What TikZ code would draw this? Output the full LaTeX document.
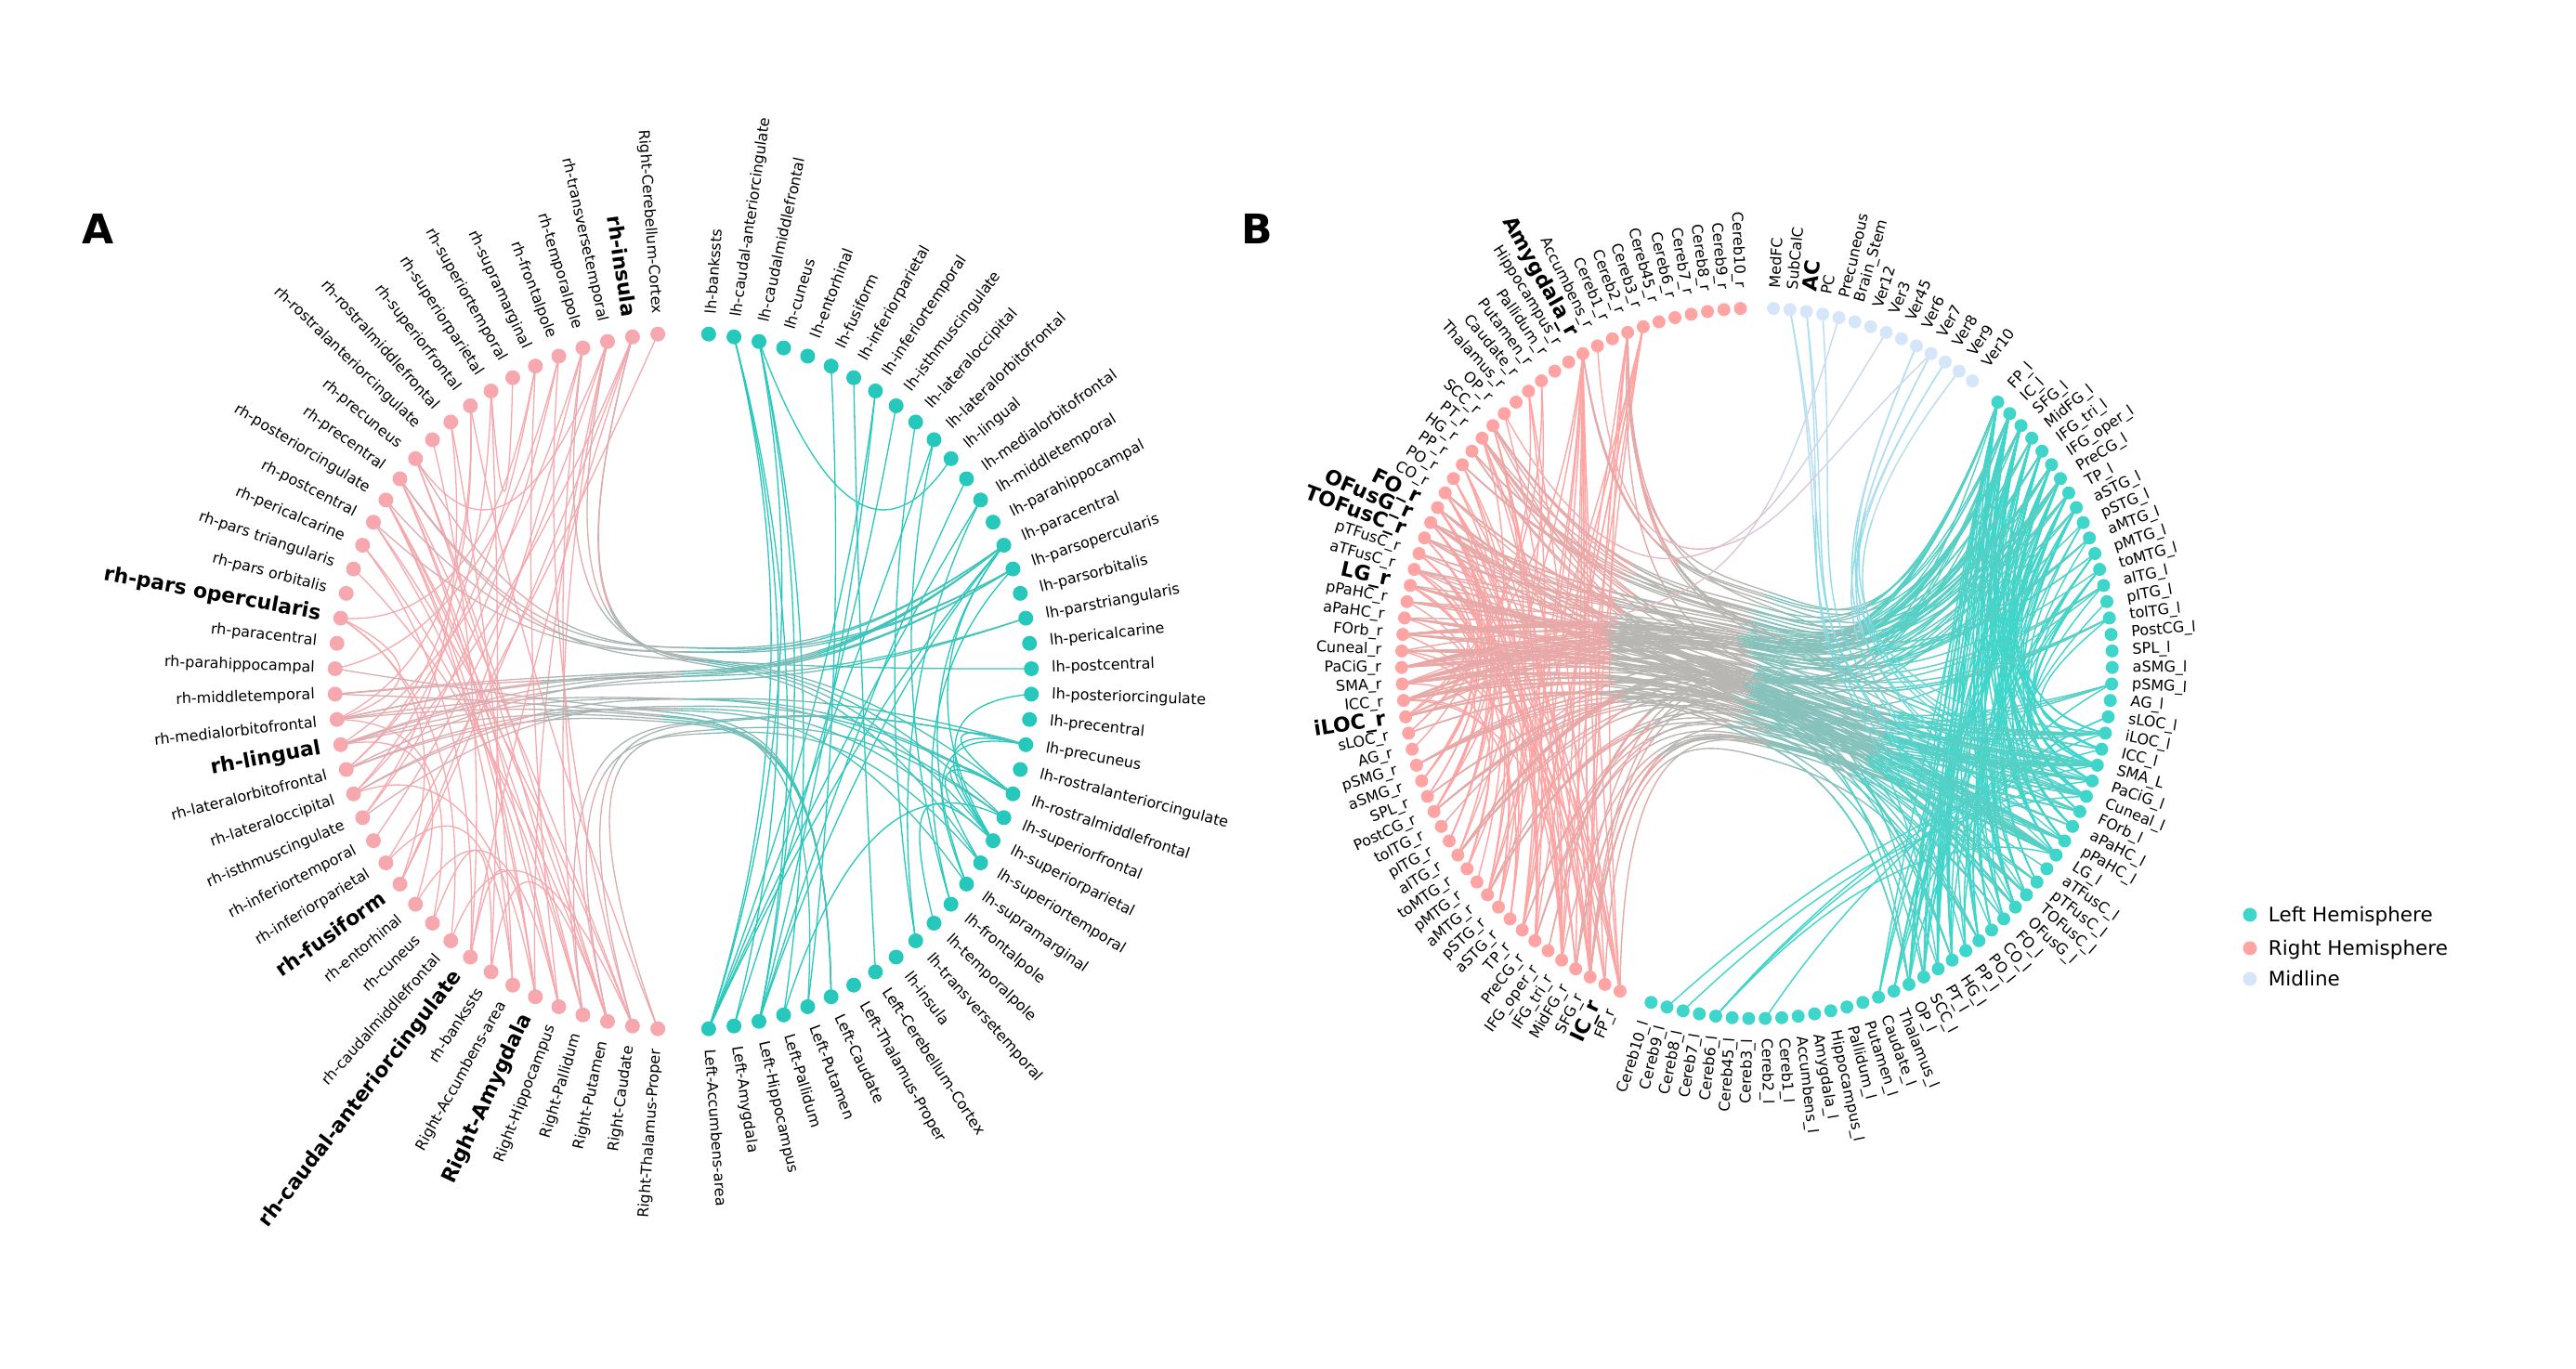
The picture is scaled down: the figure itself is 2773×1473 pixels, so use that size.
\documentclass[tikz,border=0pt]{standalone}
\usepackage{fontspec}
\setmainfont{DejaVu Sans}
\usetikzlibrary{calc}
\pgfdeclarelayer{edges}
\pgfsetlayers{edges,main}
\definecolor{pA}{RGB}{247,168,174}
\definecolor{gA}{RGB}{38,200,188}
\definecolor{pB}{RGB}{255,163,163}
\definecolor{gB}{RGB}{62,213,202}
\definecolor{mB}{RGB}{214,230,250}
\definecolor{mE}{RGB}{196,222,246}
\newcommand\bfont{\fontsize{22}{26}\bfseries\selectfont}
\def\bx{0.8}
\def\bs{0.7}
% split a cubic at t=1/2
\newcommand\bsplit[5]{%
  \path ($(#1)!.5!(#2)$) coordinate (#5a)
        ($(#2)!.5!(#3)$) coordinate (#5x)
        ($(#3)!.5!(#4)$) coordinate (#5d)
        ($(#5a)!.5!(#5x)$) coordinate (#5b)
        ($(#5x)!.5!(#5d)$) coordinate (#5c)
        ($(#5b)!.5!(#5c)$) coordinate (#5m);}
\newcommand\segq[6]{%
  \bsplit{#1}{#2}{#3}{#4}{Q}%
  \draw[conn,draw=#5] (#1.center) .. controls (Qa) and (Qb) .. (Qm);
  \draw[conn,draw=#6] (Qm) .. controls (Qc) and (Qd) .. (#4.center);}
% bundled connector across groups: leaf, group, root, group, leaf
\newcommand\xconn[7]{%
  \path ($(#1)!.25!(#5)$) coordinate (L1)
        ($(#1)!.5!(#5)$) coordinate (L2)
        ($(#1)!.75!(#5)$) coordinate (L3)
        ($(L1)!\bx!(#2)$) coordinate (C1)
        ($(L2)!\bx!(#3)$) coordinate (C2)
        ($(L3)!\bx!(#4)$) coordinate (C3)
        ($(C1)!.5!(C2)$) coordinate (M1)
        ($(C2)!.5!(C3)$) coordinate (M2)
        ($(M1)!.5!(M2)$) coordinate (MC);%
  \segq{#1}{C1}{M1}{MC}{#6!87.5!#7}{#6!62.5!#7}%
  \segq{MC}{M2}{C3}{#5}{#6!37.5!#7}{#6!12.5!#7}}
% bundled connector inside one group
\newcommand\sconn[4]{%
  \path ($(#1)!.5!(#3)$) coordinate (L2) ($(L2)!\bs!(#2)$) coordinate (C2);%
  \draw[conn,draw=#4] (#1.center) .. controls ($(#1)!.6667!(C2)$) and ($(#3)!.6667!(C2)$) .. (#3.center);}
% radial label
\newcommand\radlab[5]{%
  \pgfmathtruncatemacro\isleft{(#2>90 && #2<270) ? 1 : 0}%
  \ifnum\isleft=1
    \node[lab, anchor=east, rotate=#2-180] (#5) at ([shift={(#2:#3)}]#1) {#4};
  \else
    \node[lab, anchor=west, rotate=#2] (#5) at ([shift={(#2:#3)}]#1) {#4};
  \fi}
\pgfmathdeclarerandomlist{BpX}{{17}{18}{19}{20}{21}{22}{23}{24}{24}{25}{25}{26}{26}{27}{28}{29}{29}{29}{30}{30}{31}{31}{32}{32}{32}{33}{33}{33}{34}{34}{34}{35}{35}{35}{36}{36}{36}{37}{37}{38}{40}{42}{43}{44}{46}{49}{52}{53}{54}{55}{56}{57}{58}{59}{11}{8}}
\pgfmathdeclarerandomlist{BgX}{{119}{118}{117}{116}{115}{114}{113}{112}{111}{110}{109}{108}{107}{106}{119}{118}{117}{115}{114}{113}{100}{98}{97}{97}{96}{96}{95}{95}{95}{94}{94}{94}{93}{93}{93}{92}{92}{91}{90}{90}{89}{89}{89}{88}{87}{86}{86}{85}{85}{84}{83}{82}{80}{79}{78}{77}{104}}
\pgfmathdeclarerandomlist{BpA}{{7}{8}{11}{11}{14}{15}{17}{18}{19}{19}{20}{21}{22}{23}{24}{24}{25}{25}{26}{27}{28}{29}{29}{30}{31}{32}{33}{34}{35}{36}}
\pgfmathdeclarerandomlist{BpB}{{37}{38}{39}{40}{41}{42}{42}{43}{43}{44}{45}{46}{47}{48}{49}{49}{50}{51}{52}{52}{53}{53}{53}{54}{54}{55}{55}{55}{56}{56}{57}{57}{57}{58}{58}{59}{59}}
\pgfmathdeclarerandomlist{BgA}{{119}{119}{119}{118}{118}{118}{117}{117}{117}{116}{116}{115}{115}{115}{114}{114}{113}{113}{112}{112}{111}{110}{109}{108}{107}{106}{105}{104}{100}{98}}
\pgfmathdeclarerandomlist{BgB}{{75}{76}{77}{77}{78}{78}{79}{79}{80}{80}{81}{82}{82}{83}{83}{84}{84}{85}{85}{86}{86}{87}{88}{89}{89}{89}{90}{90}{91}{92}{93}{93}{94}{94}{95}{95}{96}{96}{97}}
\begin{document}
\begin{tikzpicture}[x=1pt,y=1pt,
  lab/.style={inner sep=0pt, outer sep=0pt, font=\fontsize{16}{19}\selectfont},
  dotA/.style={circle, inner sep=0pt, minimum size=16pt, draw=none},
  dotB/.style={circle, inner sep=0pt, minimum size=14pt, draw=none},
  conn/.style={line width=1.3pt, line cap=round}]
\useasboundingbox (0,0) rectangle (2773,1473);
\coordinate (AO) at (735.5,739.3);
\coordinate (BO) at (1891.3,758.8);
\coordinate (AGp) at ([shift={(180:187.5)}]AO);
\coordinate (AGg) at ([shift={(0:187.5)}]AO);
\coordinate (BGp) at ([shift={(170:191)}]BO);
\coordinate (BGg) at ([shift={(330:191)}]BO);
\coordinate (BGm) at ([shift={(70:191)}]BO);

% ---------- panel A nodes ----------
\foreach \lab/\isb [count=\i from 0] in {Right-Cerebellum-Cortex/0, rh-insula/1, rh-transversetemporal/0, rh-temporalpole/0, rh-frontalpole/0, rh-supramarginal/0, rh-superiortemporal/0, rh-superiorparietal/0, rh-superiorfrontal/0, rh-rostralmiddlefrontal/0, rh-rostralanteriorcingulate/0, rh-precuneus/0, rh-precentral/0, rh-posteriorcingulate/0, rh-postcentral/0, rh-pericalcarine/0, rh-pars triangularis/0, rh-pars orbitalis/0, rh-pars opercularis/1, rh-paracentral/0, rh-parahippocampal/0, rh-middletemporal/0, rh-medialorbitofrontal/0, rh-lingual/1, rh-lateralorbitofrontal/0, rh-lateraloccipital/0, rh-isthmuscingulate/0, rh-inferiortemporal/0, rh-inferiorparietal/0, rh-fusiform/1, rh-entorhinal/0, rh-cuneus/0, rh-caudalmiddlefrontal/0, rh-caudal-anteriorcingulate/1, rh-bankssts/0, Right-Accumbens-area/0, Right-Amygdala/1, Right-Hippocampus/0, Right-Pallidum/0, Right-Putamen/0, Right-Caudate/0, Right-Thalamus-Proper/0}{%
  \pgfmathsetmacro\ang{90+(\i+1)*360/86}%
  \node[dotA, fill=pA] (Ap\i) at ([shift={(\ang:375)}]AO) {};%
  \radlab{AO}{\ang}{397}{\ifnum\isb=1 \bfont\fi\lab}{Apl\i}}
\foreach \lab [count=\i from 0] in {lh-bankssts, lh-caudal-anteriorcingulate, lh-caudalmiddlefrontal, lh-cuneus, lh-entorhinal, lh-fusiform, lh-inferiorparietal, lh-inferiortemporal, lh-isthmuscingulate, lh-lateraloccipital, lh-lateralorbitofrontal, lh-lingual, lh-medialorbitofrontal, lh-middletemporal, lh-parahippocampal, lh-paracentral, lh-parsopercularis, lh-parsorbitalis, lh-parstriangularis, lh-pericalcarine, lh-postcentral, lh-posteriorcingulate, lh-precentral, lh-precuneus, lh-rostralanteriorcingulate, lh-rostralmiddlefrontal, lh-superiorfrontal, lh-superiorparietal, lh-superiortemporal, lh-supramarginal, lh-frontalpole, lh-temporalpole, lh-transversetemporal, lh-insula, Left-Cerebellum-Cortex, Left-Thalamus-Proper, Left-Caudate, Left-Putamen, Left-Pallidum, Left-Hippocampus, Left-Amygdala, Left-Accumbens-area}{%
  \pgfmathsetmacro\ang{90-(\i+1)*360/86}%
  \node[dotA, fill=gA] (Ag\i) at ([shift={(\ang:375)}]AO) {};%
  \radlab{AO}{\ang}{397}{\lab}{Agl\i}}

% ---------- panel B nodes ----------
\foreach \lab/\isb [count=\j from 1] in {Cereb10\_r/0, Cereb9\_r/0, Cereb8\_r/0, Cereb7\_r/0, Cereb6\_r/0, Cereb45\_r/0, Cereb3\_r/0, Cereb2\_r/0, Cereb1\_r/0, Accumbens\_r/0, Amygdala\_r/1, Hippocampus\_r/0, Pallidum\_r/0, Putamen\_r/0, Caudate\_r/0, Thalamus\_r/0, OP\_r/0, SCC\_r/0, PT\_r/0, HG\_r/0, PP\_r/0, PO\_r/0, CO\_r/0, FO\_r/1, OFusG\_r/1, TOFusC\_r/1, pTFusC\_r/0, aTFusC\_r/0, LG\_r/1, pPaHC\_r/0, aPaHC\_r/0, FOrb\_r/0, Cuneal\_r/0, PaCiG\_r/0, SMA\_r/0, ICC\_r/0, iLOC\_r/1, sLOC\_r/0, AG\_r/0, pSMG\_r/0, aSMG\_r/0, SPL\_r/0, PostCG\_r/0, toITG\_r/0, pITG\_r/0, aITG\_r/0, toMTG\_r/0, pMTG\_r/0, aMTG\_r/0, pSTG\_r/0, aSTG\_r/0, TP\_r/0, PreCG\_r/0, IFG\_oper\_r/0, IFG\_tri\_r/0, MidFG\_r/0, SFG\_r/0, IC\_r/1, FP\_r/0}{%
  \pgfmathsetmacro\ang{90+\j*8/3}%
  \node[dotB, fill=pB] (B\j) at ([shift={(\ang:382.5)}]BO) {};%
  \radlab{BO}{\ang}{404.5}{\ifnum\isb=1 \bfont\fi\lab}{Bl\j}}
\foreach \lab [count=\j from 61] in {Cereb10\_l, Cereb9\_l, Cereb8\_l, Cereb7\_l, Cereb6\_l, Cereb45\_l, Cereb3\_l, Cereb2\_l, Cereb1\_l, Accumbens\_l, Amygdala\_l, Hippocampus\_l, Pallidum\_l, Putamen\_l, Caudate\_l, Thalamus\_l, OP\_l, SCC\_l, PT\_l, HG\_l, PP\_l, PO\_l, CO\_l, FO\_l, OFusG\_l, TOFusC\_l, pTFusC\_l, aTFusC\_l, LG\_l, pPaHC\_l, aPaHC\_l, FOrb\_l, Cuneal\_l, PaCiG\_l, SMA\_L, ICC\_l, iLOC\_l, sLOC\_l, AG\_l, pSMG\_l, aSMG\_l, SPL\_l, PostCG\_l, toITG\_l, pITG\_l, aITG\_l, toMTG\_l, pMTG\_l, aMTG\_l, pSTG\_l, aSTG\_l, TP\_l, PreCG\_l, IFG\_oper\_l, IFG\_tri\_l, MidFG\_l, SFG\_l, IC\_l, FP\_l}{%
  \pgfmathsetmacro\ang{90+\j*8/3}%
  \node[dotB, fill=gB] (B\j) at ([shift={(\ang:382.5)}]BO) {};%
  \radlab{BO}{\ang}{404.5}{\lab}{Bl\j}}
\foreach \lab/\isb [count=\j from 121] in {Ver10/0, Ver9/0, Ver8/0, Ver7/0, Ver6/0, Ver45/0, Ver3/0, Ver12/0, Brain\_Stem/0, Precuneous/0, PC/0, AC/1, SubCalC/0, MedFC/0}{%
  \pgfmathsetmacro\ang{90+\j*8/3}%
  \node[dotB, fill=mB] (B\j) at ([shift={(\ang:382.5)}]BO) {};%
  \radlab{BO}{\ang}{404.5}{\ifnum\isb=1 \bfont\fi\lab}{Bl\j}}

% ---------- panel letters and legend ----------
\node[inner sep=0pt, font=\fontsize{44}{44}\bfseries\selectfont] (labA) at (105.5,1226.5) {A};
\node[inner sep=0pt, font=\fontsize{44}{44}\bfseries\selectfont] (labB) at (1353.5,1227) {B};
\foreach \t/\c/\y [count=\i] in {Left Hemisphere/gB/488, Right Hemisphere/pB/452, Midline/mB/419}{%
  \node[circle, inner sep=0pt, minimum size=15pt, fill=\c] (leg\i) at (2422,\y) {};
  \node[anchor=base west, inner sep=0pt, font=\fontsize{21.5}{24}\selectfont] (legt\i) at (2441.7,\y-7.8) {\t};}

% ---------- connectors ----------
\begin{pgfonlayer}{edges}
\fill[white] (0,0) rectangle (2773,1473);
\def\bx{0.8}\def\bs{0.72}
\foreach \a/\b in {0/28,1/25,1/33,2/38,2/36,3/39,3/29,4/40,4/26,5/37,6/7,7/34,8/41,8/24,9/35,10/33,11/2,11/38,11/39,12/37,12/40,12/36,13/36,13/38,13/39,13/35,14/37,14/40,15/38,15/33,16/39,18/22,18/5,18/29,18/32,20/4,22/8,22/31,23/3,23/30,24/5,25/7,26/9,27/2,28/35,29/1,30/37,31/34,32/40,33/36,34/39,25/36}{\sconn{Ap\a}{AGp}{Ap\b}{pA}}
\foreach \a/\b in {1/39,1/41,1/40,2/39,2/41,2/38,2/11,5/37,6/34,7/39,7/41,8/40,9/32,10/41,10/30,12/39,13/41,13/32,15/41,15/39,15/27,15/29,16/30,21/27,23/27,23/25,23/29,25/27,25/28,26/38,27/31}{\sconn{Ag\a}{AGg}{Ag\b}{gA}}
\foreach \a/\b in {1/27,1/28,2/26,3/25,11/16,12/20,12/15,13/16,14/15,21/18,21/16,22/15,22/16,22/26,23/15,23/18,23/25,24/15,24/29,25/27,25/23,26/25,38/23,40/23,41/26,20/36,22/36,23/36,24/36,21/37,39/28}{\xconn{Ap\a}{AGp}{AO}{AGg}{Ag\b}{pA}{gA}}
\def\bx{0.72}\def\bs{0.68}
\tikzset{conn/.style={line width=1.4pt, line cap=round}}
\pgfmathsetseed{2024}
\foreach \n in {1,...,70}{\pgfmathrandomitem{\a}{BpA}\pgfmathrandomitem{\b}{BpB}\sconn{B\a}{BGp}{B\b}{pB}}
\foreach \a/\b in {7/55,8/53,8/57,11/50,11/52,11/56}{\sconn{B\a}{BGp}{B\b}{pB}}
\foreach \n in {1,...,110}{\pgfmathrandomitem{\a}{BgA}\pgfmathrandomitem{\b}{BgB}\sconn{B\a}{BGg}{B\b}{gB}}
\foreach \a/\b in {62/95,63/93,65/89,65/94,65/96,68/97}{\sconn{B\a}{BGg}{B\b}{gB}}
\foreach \n in {1,...,170}{\pgfmathrandomitem{\a}{BpX}\pgfmathrandomitem{\b}{BgX}\xconn{B\a}{BGp}{BO}{BGg}{B\b}{pB}{gB}}
\foreach \a/\b in {133/84,133/81,132/83,132/79,131/86,125/90,125/95,124/93,124/97,123/85,123/89,122/94}{\xconn{B\a}{BGm}{BO}{BGg}{B\b}{mE}{gB}}
\foreach \a/\b in {130/35,124/10,127/17}{\xconn{B\a}{BGm}{BO}{BGp}{B\b}{mE}{pB}}
\end{pgfonlayer}
\end{tikzpicture}
\end{document}
